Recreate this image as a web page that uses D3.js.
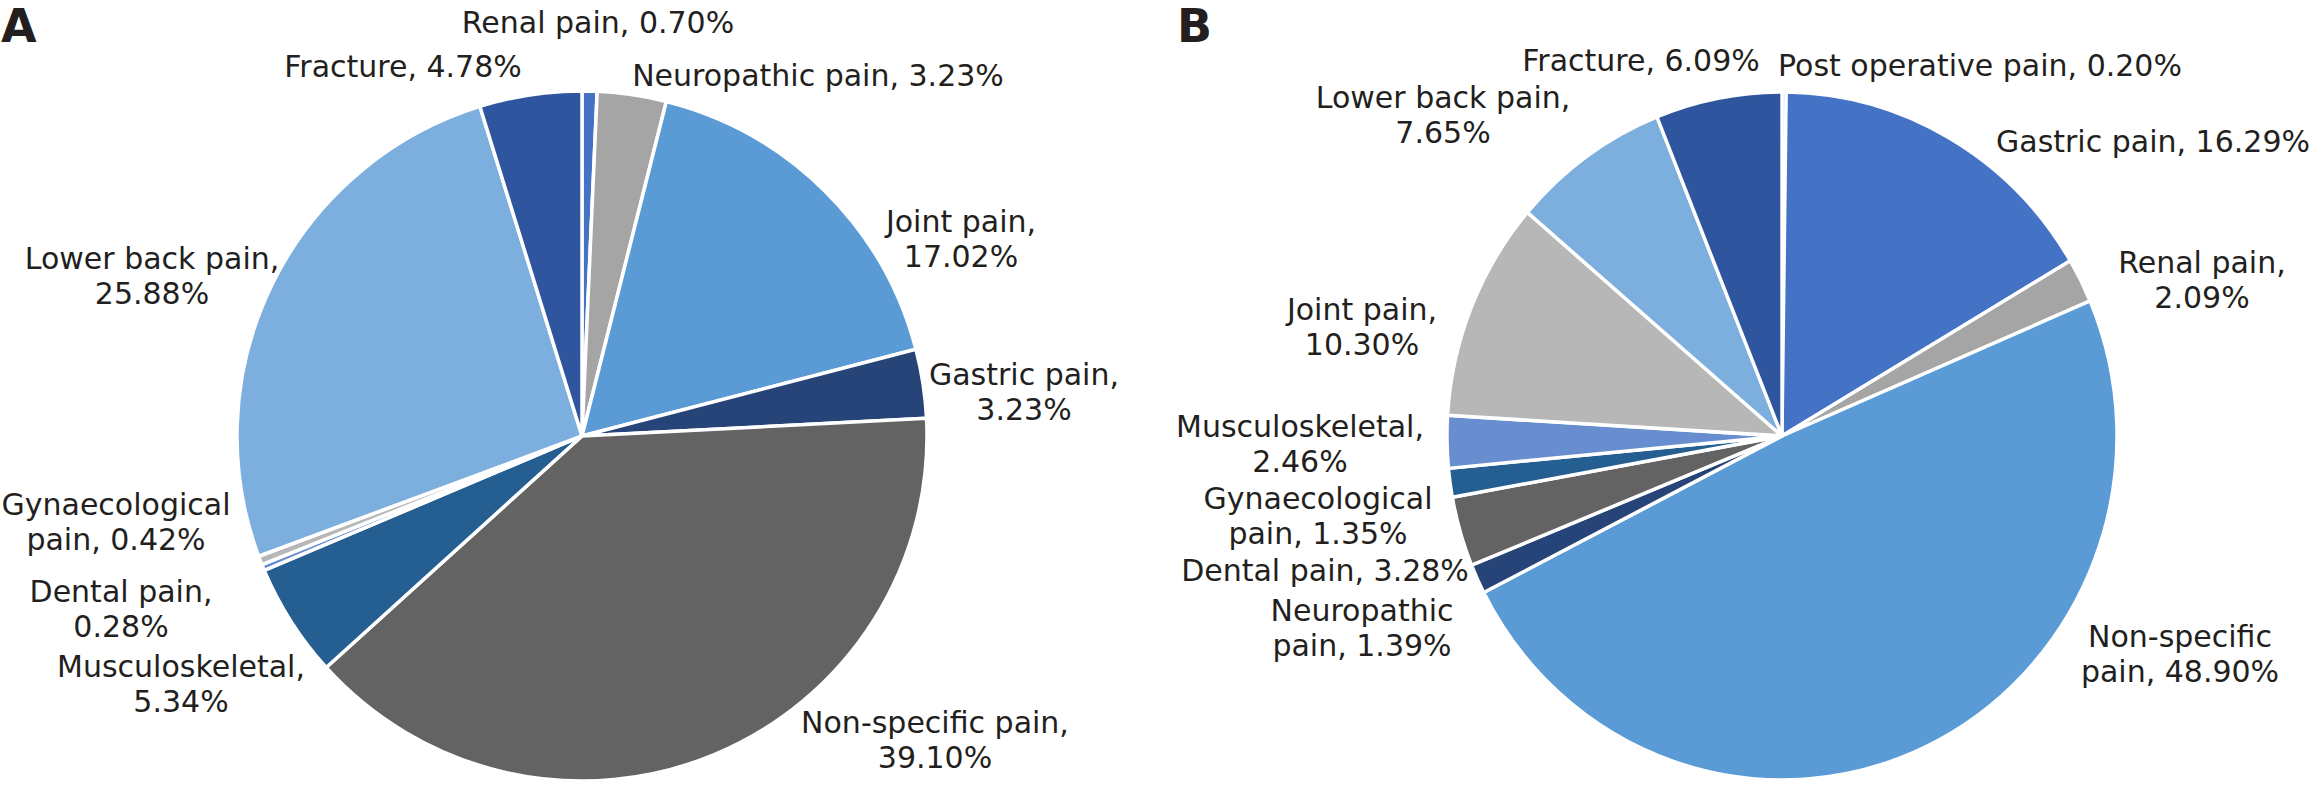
<!DOCTYPE html>
<html>
<head>
<meta charset="utf-8">
<script src="https://cdn.jsdelivr.net/npm/d3@7"></script>
<style>
  html, body { margin: 0; padding: 0; background: #fff; }
  svg text { font-family: "DejaVu Sans", "Noto Sans", sans-serif; fill: #231f20; }
</style>
</head>
<body>
<svg id="chart" width="2314" height="792"></svg>
<script>
// ---- Data: Panel A ----
const categoriesA = ["Renal pain", "Neuropathic pain", "Joint pain", "Gastric pain", "Non-specific pain",
  "Musculoskeletal", "Dental pain", "Gynaecological pain", "Lower back pain", "Fracture"];
const valuesA = [0.70, 3.23, 17.02, 3.23, 39.10, 5.34, 0.28, 0.42, 25.88, 4.78];
const labelsA = [
  ["Renal pain, 0.70%"],
  ["Neuropathic pain, 3.23%"],
  ["Joint pain,", "17.02%"],
  ["Gastric pain,", "3.23%"],
  ["Non-specific pain,", "39.10%"],
  ["Musculoskeletal,", "5.34%"],
  ["Dental pain,", "0.28%"],
  ["Gynaecological", "pain, 0.42%"],
  ["Lower back pain,", "25.88%"],
  ["Fracture, 4.78%"]
];
const colorsA = ["#4472C4", "#A5A5A5", "#5B9BD5", "#264478", "#636363",
  "#255E91", "#698ED0", "#B7B7B7", "#7CAFDD", "#2F559E"];

// ---- Data: Panel B ----
const categoriesB = ["Post operative pain", "Gastric pain", "Renal pain", "Non-specific pain", "Neuropathic pain",
  "Dental pain", "Gynaecological pain", "Musculoskeletal", "Joint pain", "Lower back pain", "Fracture"];
const valuesB = [0.20, 16.29, 2.09, 48.90, 1.39, 3.28, 1.35, 2.46, 10.30, 7.65, 6.09];
const labelsB = [
  ["Post operative pain, 0.20%"],
  ["Gastric pain, 16.29%"],
  ["Renal pain,", "2.09%"],
  ["Non-specific", "pain, 48.90%"],
  ["Neuropathic", "pain, 1.39%"],
  ["Dental pain, 3.28%"],
  ["Gynaecological", "pain, 1.35%"],
  ["Musculoskeletal,", "2.46%"],
  ["Joint pain,", "10.30%"],
  ["Lower back pain,", "7.65%"],
  ["Fracture, 6.09%"]
];
const colorsB = ["#8FAADC", "#4472C4", "#A5A5A5", "#5B9BD5", "#264478",
  "#636363", "#255E91", "#698ED0", "#B7B7B7", "#7CAFDD", "#2F559E"];

// ---- Layout (label anchors relative to pie centre: dx, dy of first baseline, line gap) ----
const layoutA = { cx: 582, cy: 436, rx: 345, ry: 345, letter: "A", lx: 1,
  labelPos: [[16,-403,35],[236,-350,35],[379,-204,35],[442,-51,35],[353,297,35],
             [-401,241,35],[-461,166,35],[-466,79,35],[-430,-167,35],[-179,-359,35]] };
const layoutB = { cx: 1782, cy: 436, rx: 335, ry: 344, letter: "B", lx: 1177,
  labelPos: [[198,-360,35],[371,-284,35],[420,-163,35],[398,211,35],[-420,185,35],
             [-457,145,35],[-464,73,35],[-482,1,35],[-420,-116,35],[-339,-328,35],[-141,-365,35]] };

const svg = d3.select("#chart");

function drawPie(values, labels, colors, L) {
  const pie = d3.pie().sort(null).value(d => d)(values);
  const arc = d3.arc().innerRadius(0).outerRadius(L.ry);
  const g = svg.append("g").attr("transform", `translate(${L.cx},${L.cy})`);
  g.append("g").attr("transform", `scale(${L.rx / L.ry},1)`)
    .selectAll("path").data(pie).join("path")
    .attr("d", arc)
    .attr("fill", (d, i) => colors[i])
    .attr("stroke", "#fff")
    .attr("stroke-width", 3.5)
    .attr("stroke-linejoin", "round");

  const lg = g.append("g").attr("font-size", 30).attr("text-anchor", "middle");
  labels.forEach((lines, i) => {
    const [dx, dy, gap] = L.labelPos[i];
    const t = lg.append("text").attr("x", dx).attr("y", dy);
    lines.forEach((s, j) => {
      t.append("tspan").attr("x", dx).attr("y", dy + j * gap).text(s);
    });
  });

  svg.append("text").attr("x", L.lx).attr("y", 42)
    .attr("font-size", 46).attr("font-weight", "bold")
    .attr("fill", "#231816").text(L.letter);
}

drawPie(valuesA, labelsA, colorsA, layoutA);
drawPie(valuesB, labelsB, colorsB, layoutB);
</script>
</body>
</html>
